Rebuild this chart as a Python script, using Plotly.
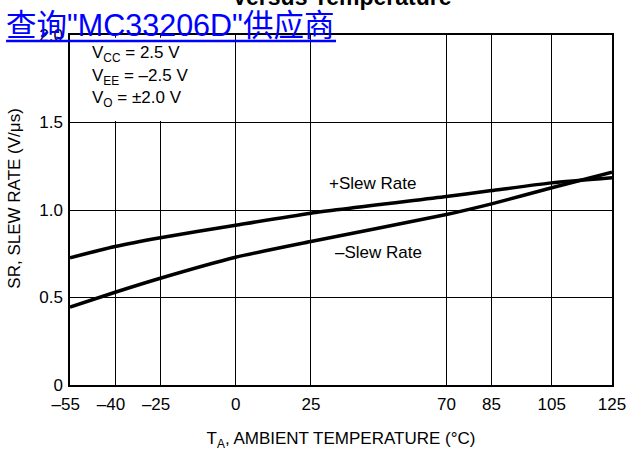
import plotly.graph_objects as go

# Data
temps = [-55, -40, -25, 0, 25, 70, 85, 105, 125]
pos_slew = [0.727, 0.791, 0.841, 0.913, 0.982, 1.077, 1.111, 1.155, 1.184]
neg_slew = [0.445, 0.530, 0.610, 0.730, 0.820, 0.974, 1.035, 1.127, 1.216]
x_ticks = [-55, -40, -25, 0, 25, 70, 85, 105, 125]
x_ticktext = ["–55\u2002", "–40\u2002", "–25\u2002", "0", "25", "70", "85", "105", "125"]
y_ticks = [0, 0.5, 1.0, 1.5, 2.0]
y_ticktext = ["0", "0.5", "1.0", "1.5", "2.0"]

FONT = "Liberation Sans, Arial, sans-serif"
FS = 17

fig = go.Figure()
fig.add_trace(go.Scatter(x=temps, y=pos_slew, mode="lines", line=dict(color="black", width=3.5, shape="spline", smoothing=0.6), showlegend=False))
fig.add_trace(go.Scatter(x=temps, y=neg_slew, mode="lines", line=dict(color="black", width=3.5, shape="spline", smoothing=0.6), showlegend=False))

# white box behind the conditions text (covers gridlines)
fig.add_shape(type="rect", xref="x", yref="y", x0=-54.3, x1=-0.6, y0=1.508, y1=1.985,
              fillcolor="white", line=dict(width=0), layer="between")

ann = [
    dict(x=45.6, y=1.154, text="+Slew Rate", xanchor="center", yanchor="middle"),
    dict(x=47.3, y=0.76, text="–Slew Rate", xanchor="center", yanchor="middle"),
    dict(x=-48.5, y=1.891, text="V<sub>CC</sub> = 2.5 V", xanchor="left", yanchor="middle"),
    dict(x=-48.5, y=1.761, text="V<sub>EE</sub> = –2.5 V", xanchor="left", yanchor="middle"),
    dict(x=-48.5, y=1.636, text="V<sub>O</sub> = ±2.0 V", xanchor="left", yanchor="middle"),
]
for a in ann:
    fig.add_annotation(xref="x", yref="y", showarrow=False, font=dict(family=FONT, size=FS, color="black"), **a)

# y-axis title
fig.add_annotation(xref="paper", yref="paper", x=0, xshift=-55.5, y=0.531, text="SR, SLEW RATE (V/μs)",
                   textangle=-90, showarrow=False, xanchor="center", yanchor="middle",
                   font=dict(family=FONT, size=FS, color="black"))

# partially visible title
fig.add_annotation(xref="paper", yref="paper", x=0.5, y=1.0, yshift=23, text="<b>Versus Temperature</b>",
                   showarrow=False, xanchor="center", yanchor="bottom",
                   font=dict(family=FONT, size=23, color="black"))
# blue link text
fig.add_annotation(xref="paper", yref="paper", x=0, xshift=-66, y=1.0, yshift=-9, text="查询\"MC33206D\"供应商",
                   showarrow=False, xanchor="left", yanchor="bottom",
                   font=dict(family="Liberation Sans, Noto Sans CJK SC, sans-serif", size=30.5, color="#0000ff"))
fig.add_shape(type="line", xref="paper", yref="paper", x0=-0.118, x1=0.4908, y0=0.9829, y1=0.9829,
              line=dict(color="#0000ff", width=2.5), layer="above")

fig.update_layout(
    width=629, height=451,
    margin=dict(l=70, r=17, t=35, b=66),
    paper_bgcolor="white", plot_bgcolor="white",
    font=dict(family=FONT, size=FS, color="black"),
    xaxis=dict(range=[-55, 125], tickvals=x_ticks, ticktext=x_ticktext, showgrid=True, gridcolor="black", gridwidth=1,
               showline=True, linecolor="black", linewidth=1.5, mirror=True, zeroline=False, ticks="", automargin=False,
               ticklabelstandoff=3,
               title=dict(text="T<sub>A</sub>, AMBIENT TEMPERATURE (°C)", font=dict(size=FS), standoff=21)),
    yaxis=dict(range=[0, 2], tickvals=y_ticks, ticktext=y_ticktext, showgrid=True, gridcolor="black", gridwidth=1,
               showline=True, linecolor="black", linewidth=1.5, mirror=True, zeroline=False, ticks="", automargin=False,
               ticklabelstandoff=2),
)

fig.write_html("out.html", config={"displayModeBar": False},
               post_script="document.body.style.margin='0px';")
